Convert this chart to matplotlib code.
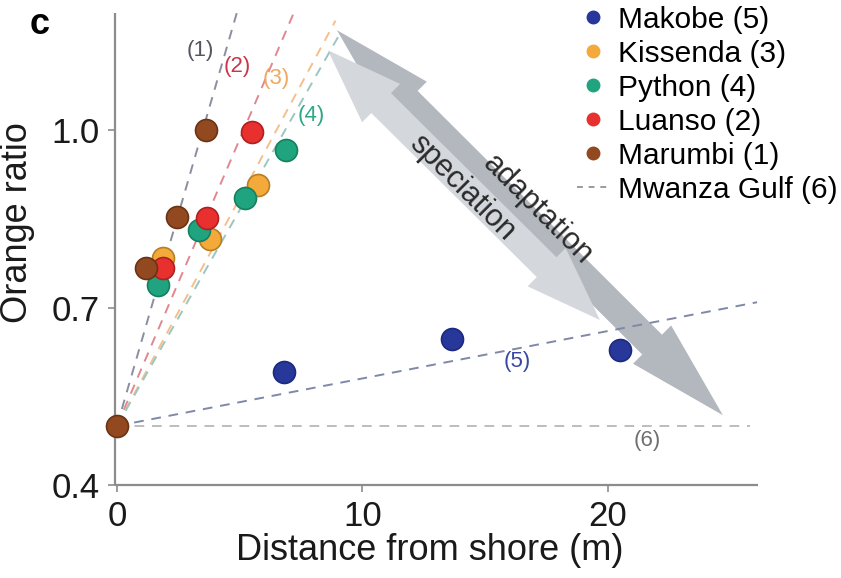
import numpy as np
import matplotlib
matplotlib.use('Agg')
import matplotlib.pyplot as plt
from matplotlib.patches import Polygon
from matplotlib.lines import Line2D
from matplotlib.transforms import IdentityTransform

plt.rcParams['font.family'] = ['Liberation Sans', 'DejaVu Sans']

# ---- data ----
pops = ['Makobe (5)', 'Kissenda (3)', 'Python (4)', 'Luanso (2)', 'Marumbi (1)']
fill_cols = ['#27379a', '#f4aa3a', '#1fa47f', '#e8302e', '#93491f']
edge_cols = ['#1c2a80', '#b77f22', '#15805f', '#b02020', '#6a3414']

makobe_x = [6.8, 13.65, 20.5]
makobe_y = [0.591, 0.647, 0.628]
kissenda_x = [1.87, 3.79, 5.75]
kissenda_y = [0.783, 0.816, 0.907]
python_x = [1.67, 3.34, 5.21, 6.88]
python_y = [0.738, 0.831, 0.885, 0.966]
luanso_x = [1.87, 3.67, 5.5]
luanso_y = [0.767, 0.851, 0.997]
marumbi_x = [0.0, 1.18, 2.44, 3.63]
marumbi_y = [0.5, 0.767, 0.853, 1.0]

pop_x = [makobe_x, kissenda_x, python_x, luanso_x, marumbi_x]
pop_y = [makobe_y, kissenda_y, python_y, luanso_y, marumbi_y]

# fitted lines, all start at (0, 0.5)
fit_ids = ['(1)', '(2)', '(3)', '(4)', '(5)', '(6)']
fit_end_x = [4.88, 7.2, 8.9, 9.0, 26.07, 25.8]
fit_end_y = [1.198, 1.198, 1.185, 1.157, 0.709, 0.5]
fit_cols = ['#8a8fa0', '#e08890', '#f5bf8a', '#9cc6be', '#8088a8', '#bdbdbd']
lab_cols = ['#555560', '#c8384a', '#f0a860', '#30a888', '#3848a0', '#707070']
lab_x = [3.4, 4.9, 6.5, 7.9, 16.3, 21.6]
lab_y = [1.134, 1.107, 1.088, 1.025, 0.608, 0.476]

# arrows (data coords of tips)
adapt_tips = [(8.96, 1.169), (24.68, 0.518)]
spec_tips = [(8.59, 1.135), (19.67, 0.679)]

fig = plt.figure(figsize=(8.41, 5.78), dpi=100)
ax = fig.add_axes([115/841, 93/578, 643/841, 472/578])
ax.set_xlim(-0.08, 26.11)
ax.set_ylim(0.4, 1.198)

for s in ['top', 'right']:
    ax.spines[s].set_visible(False)
for s in ['left', 'bottom']:
    ax.spines[s].set_color('#8c8c8c')
    ax.spines[s].set_linewidth(1.6)
    ax.spines[s].set_capstyle('butt')

ax.set_xticks([0, 10, 20])
ax.set_yticks([0.4, 0.7, 1.0])
ax.set_yticklabels(['0.4', '0.7', '1.0'])
ax.tick_params(axis='both', colors='#8c8c8c', labelcolor='#1a1a1a',
               labelsize=25, length=5, width=1.2)
ax.tick_params(axis='x', pad=6)
ax.tick_params(axis='y', pad=6)

ax.set_xlabel('Distance from shore (m)', fontsize=26, color='#1a1a1a')
ax.set_ylabel('Orange ratio', fontsize=26, color='#1a1a1a')
ax.xaxis.set_label_coords(0.49, -0.102)
ax.yaxis.set_label_coords(-0.124, 0.557)

# dashed fit lines
for i in range(len(fit_ids)):
    ax.plot([0, fit_end_x[i]], [0.5, fit_end_y[i]], ls=(0, (5, 4)), lw=1.4,
            color=fit_cols[i], zorder=2, clip_on=False)
    ax.text(lab_x[i], lab_y[i], fit_ids[i], fontsize=16, color=lab_cols[i],
            ha='center', va='center', zorder=3)


def double_arrow(tips, shaft_hw, head_hw, head_len, color, z):
    p0 = ax.transData.transform(tips[0])
    p1 = ax.transData.transform(tips[1])
    u = (p1 - p0) / np.hypot(*(p1 - p0))
    n = np.array([-u[1], u[0]])
    pts = [p0,
           p0 + u*head_len + n*head_hw, p0 + u*head_len + n*shaft_hw,
           p1 - u*head_len + n*shaft_hw, p1 - u*head_len + n*head_hw,
           p1,
           p1 - u*head_len - n*head_hw, p1 - u*head_len - n*shaft_hw,
           p0 + u*head_len - n*shaft_hw, p0 + u*head_len - n*head_hw]
    poly = Polygon(pts, closed=True, facecolor=color, edgecolor='none',
                   transform=IdentityTransform(), zorder=z, clip_on=False)
    ax.add_artist(poly)


double_arrow(adapt_tips, 14, 27, 100, '#b3b8bf', 1)
double_arrow(spec_tips, 14, 27, 75, '#d4d8dd', 1.5)

ax.text(17.15, 0.865, 'adaptation', fontsize=22, rotation=-45, color='#2a2a2a',
        ha='center', va='center', rotation_mode='anchor', zorder=3)
ax.text(14.05, 0.902, 'speciation', fontsize=22, rotation=-45, color='#2a2a2a',
        ha='center', va='center', rotation_mode='anchor', zorder=3)

# scatter points
for i in range(len(pops)):
    ax.scatter(pop_x[i], pop_y[i], s=250, c=fill_cols[i], edgecolors=edge_cols[i],
               linewidths=1.2, zorder=4, clip_on=False)

# legend
handles = [Line2D([], [], ls='none', marker='o', markersize=9,
                  markerfacecolor=fill_cols[i], markeredgecolor=fill_cols[i])
           for i in range(len(pops))]
handles.append(Line2D([], [], ls=(0, (3, 3)), lw=1.4, color='#9a9a9a'))
leg = fig.legend(handles, pops + ['Mwanza Gulf (6)'], loc='upper right',
                 bbox_to_anchor=(838/841, 0.99), frameon=False, fontsize=21.5,
                 handlelength=1.1, handletextpad=0.3, labelspacing=0.2,
                 borderpad=0, borderaxespad=0)

fig.text(40/841, 1 - 24/578, 'c', fontsize=26, fontweight='bold',
         ha='center', va='center')

fig.savefig('out.png', dpi=100)
